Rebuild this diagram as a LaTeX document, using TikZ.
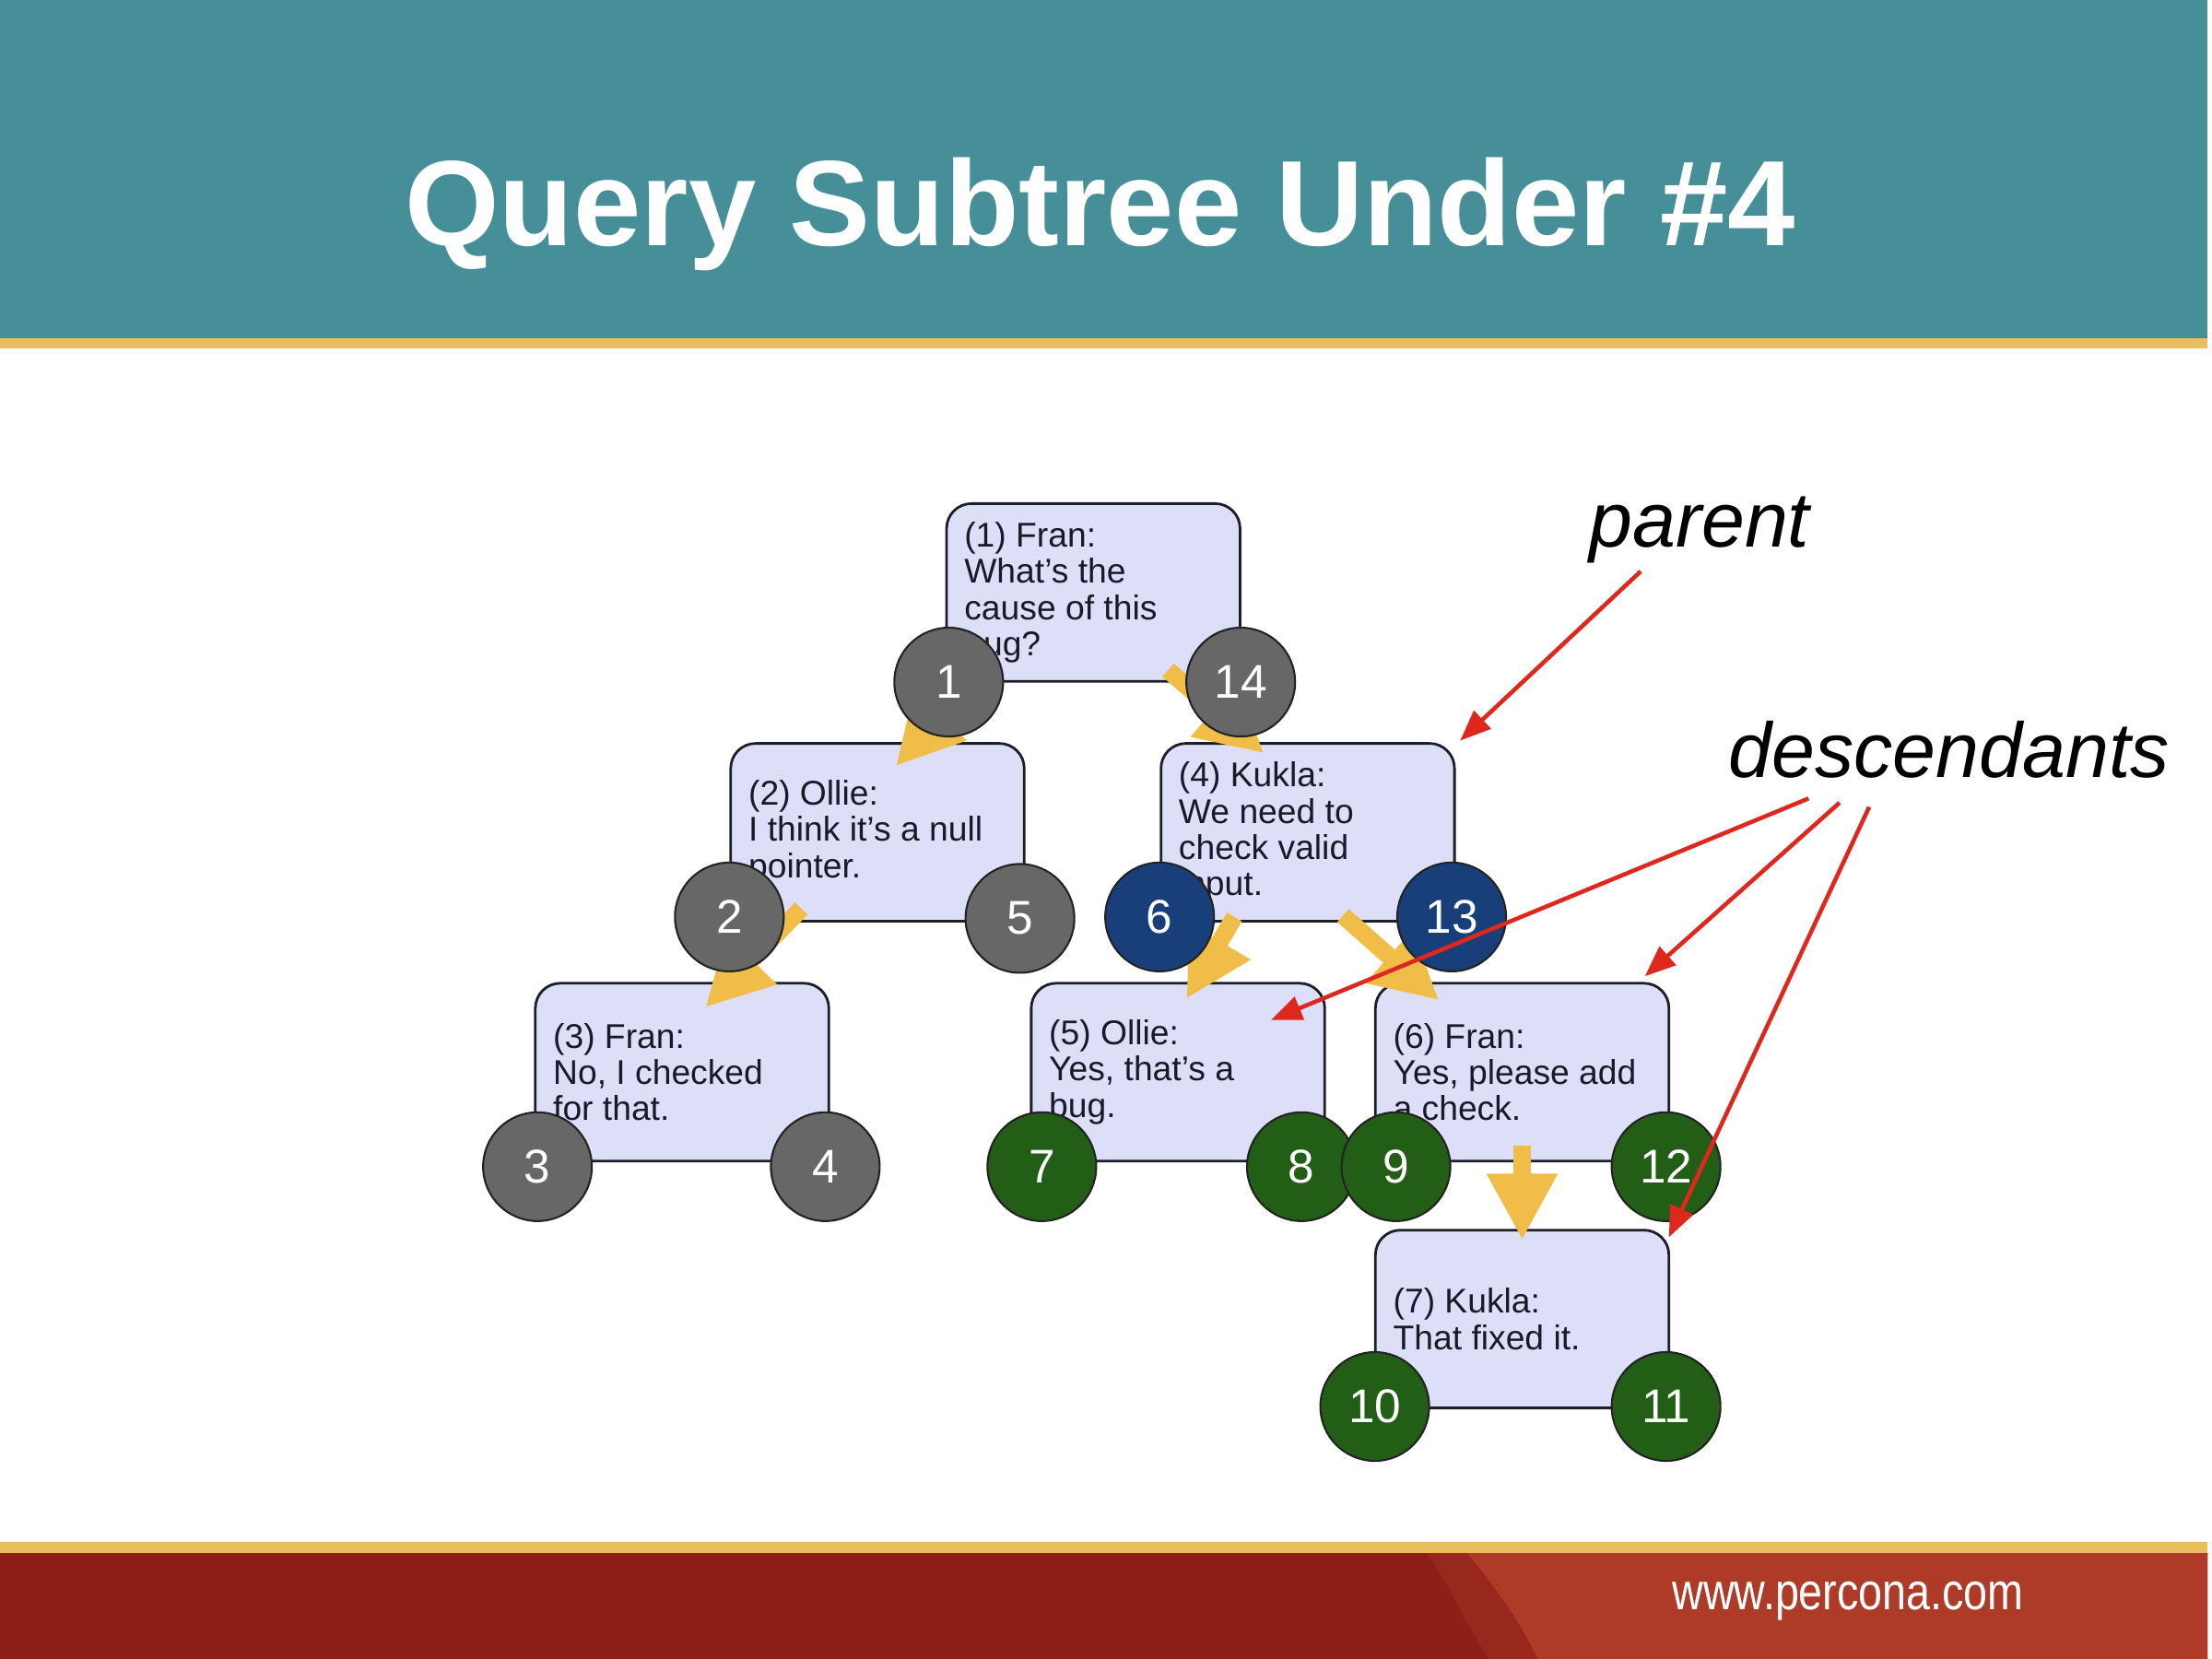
\documentclass[tikz,border=0pt]{standalone}
\usepackage{fontspec}
\setmainfont{Liberation Sans}
\usetikzlibrary{arrows.meta}
\definecolor{hdrteal}{RGB}{70,142,152}
\definecolor{goldline}{RGB}{234,190,92}
\definecolor{ftdark}{RGB}{141,31,24}
\definecolor{ftmid}{RGB}{152,40,29}
\definecolor{ftlight}{RGB}{174,58,40}
\definecolor{boxfill}{RGB}{221,223,249}
\definecolor{boxline}{RGB}{30,30,40}
\definecolor{boxtext}{RGB}{25,25,40}
\definecolor{cgrey}{RGB}{103,103,103}
\definecolor{cblue}{RGB}{25,63,122}
\definecolor{cgreen}{RGB}{35,94,22}
\definecolor{cline}{RGB}{35,35,35}
\definecolor{yarr}{RGB}{240,189,72}
\definecolor{rarr}{RGB}{222,40,30}
\begin{document}
\begin{tikzpicture}[x=0.015306cm, y=-0.015306cm,
  tbox/.style={draw=boxline, fill=boxfill, line width=0.8pt, rounded corners=0.27cm,
    minimum width=3.184cm, minimum height=1.929cm, inner sep=0pt},
  ttext/.style={anchor=west, align=left, inner sep=0pt, text=boxtext,
    font=\fontsize{10.6}{11.2}\selectfont},
  numc/.style={circle, draw=cline, line width=0.6pt, minimum size=1.18cm, inner sep=0pt,
    text=white, font=\fontsize{14.6}{15}\selectfont},
  gc/.style={numc, fill=cgrey},
  bc/.style={numc, fill=cblue},
  vc/.style={numc, fill=cgreen},
  yarrow/.style={draw=yarr, line width=5.4pt, -{Triangle[length=20.5pt,width=20.5pt]}},
  rarrow/.style={draw=rarr, line width=1.3pt, -{Triangle[length=9.5pt,width=7.5pt]}},
  lbl/.style={anchor=base west, inner sep=0pt, font=\fontsize{24}{26}\selectfont\itshape}]
\useasboundingbox (0,0) rectangle (1568,1176);
\fill[white] (0,0) rectangle (1568,1176);
% header
\fill[hdrteal] (0,0) rectangle (1565,240);
\fill[goldline] (0,240) rectangle (1565,247);
\node[font=\fontsize{37.5}{40}\selectfont\bfseries, text=white, anchor=base, inner sep=0pt] (title) at (780,174) {Query Subtree Under \#4};
% footer
\fill[goldline] (0,1093) rectangle (1565,1101);
\fill[ftdark] (0,1101) rectangle (1565,1176);
\fill[ftmid] (1012,1101) .. controls (1030,1130) and (1045,1160) .. (1055,1176) -- (1090,1176) .. controls (1078,1150) and (1060,1125) .. (1040,1101) -- cycle;
\fill[ftlight] (1040,1101) .. controls (1060,1125) and (1078,1150) .. (1090,1176) -- (1565,1176) -- (1565,1101) -- cycle;
\node[anchor=base west, inner sep=0pt, text=white, font=\fontsize{16}{18}\selectfont] (url) at (1185,1141) {\scalebox{0.83}[1]{www.percona.com}};
% boxes
\node[tbox] (b1) at (775,420) {};
\node[tbox] (b2) at (622,590) {};
\node[tbox] (b4) at (927,590) {};
\node[tbox] (b3) at (483.5,760) {};
\node[tbox] (b5) at (835,760) {};
\node[tbox] (b6) at (1079,760) {};
\node[tbox] (b7) at (1079,935) {};
\node[ttext] (t1) at ([xshift=0.2cm]b1.west) {(1) Fran:\\What’s the\\cause of this\\bug?};
\node[ttext] (t2) at ([xshift=0.2cm]b2.west) {(2) Ollie:\\I think it’s a null\\pointer.};
\node[ttext] (t4) at ([xshift=0.2cm]b4.west) {(4) Kukla:\\We need to\\check valid\\input.};
\node[ttext] (t3) at ([xshift=0.2cm]b3.west) {(3) Fran:\\No, I checked\\for that.};
\node[ttext] (t5) at ([xshift=0.2cm]b5.west) {(5) Ollie:\\Yes, that’s a\\bug.};
\node[ttext] (t6) at ([xshift=0.2cm]b6.west) {(6) Fran:\\Yes, please add\\a check.};
\node[ttext] (t7) at ([xshift=0.2cm]b7.west) {(7) Kukla:\\That fixed it.};
% yellow arrows
\coordinate (y1s) at (688,484); \coordinate (y1e) at (635,543);
\coordinate (y2s) at (828,475); \coordinate (y2e) at (896,534);
\coordinate (y3s) at (568,644); \coordinate (y3e) at (500,714);
\coordinate (y4s) at (875,650); \coordinate (y4e) at (841,708);
\coordinate (y5s) at (952,649); \coordinate (y5e) at (1020,709);
\coordinate (y6s) at (1079,812); \coordinate (y6e) at (1079,879);
\draw[yarrow] (y1s) -- (y1e);
\draw[yarrow] (y2s) -- (y2e);
\draw[yarrow] (y3s) -- (y3e);
\draw[yarrow] (y4s) -- (y4e);
\draw[yarrow] (y5s) -- (y5e);
\draw[yarrow] (y6s) -- (y6e);
% circles
\node[gc] (c1) at (672.5,483.5) {1};
\node[gc] (c14) at (879.5,483.5) {14};
\node[gc] (c2) at (517,650) {2};
\node[gc] (c5) at (723,651) {5};
\node[bc] (c6) at (822,650) {6};
\node[bc] (c13) at (1029,650) {13};
\node[gc] (c3) at (381,827) {3};
\node[gc] (c4) at (585,827) {4};
\node[vc] (c7) at (738.5,827) {7};
\node[vc] (c8) at (922.5,827) {8};
\node[vc] (c9) at (989.5,827) {9};
\node[vc] (c12) at (1181,827) {12};
\node[vc] (c10) at (974.5,997) {10};
\node[vc] (c11) at (1181,997) {11};
% labels
\node[lbl] (lparent) at (1126,388) {parent};
\node[lbl] (ldesc) at (1225,551) {descendants};
% red arrows
\coordinate (r1s) at (1163,405); \coordinate (r1e) at (1035,525);
\coordinate (r2s) at (1282,566); \coordinate (r2e) at (901,723);
\coordinate (r3s) at (1304,569); \coordinate (r3e) at (1166,692);
\coordinate (r4s) at (1325,572); \coordinate (r4e) at (1183,877);
\draw[rarrow] (r1s) -- (r1e);
\draw[rarrow] (r2s) -- (r2e);
\draw[rarrow] (r3s) -- (r3e);
\draw[rarrow] (r4s) -- (r4e);
\end{tikzpicture}
\end{document}
